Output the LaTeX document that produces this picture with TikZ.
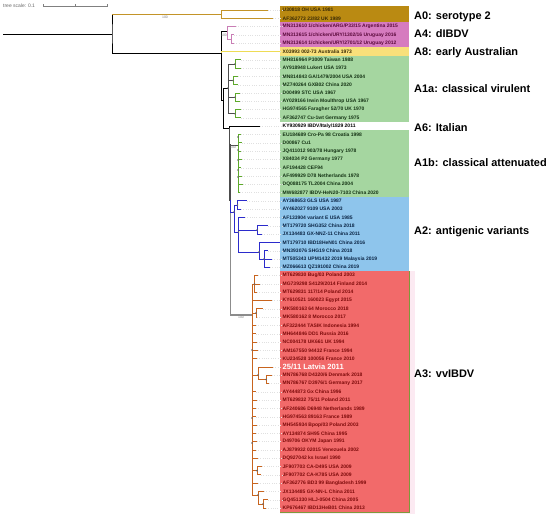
\documentclass[tikz,border=0pt]{standalone}
\usepackage{fontspec}
\setmainfont{Liberation Sans}
\definecolor{A0color}{HTML}{BA8A12}
\definecolor{A4color}{HTML}{D67BBF}
\definecolor{A8color}{HTML}{F9E07A}
\definecolor{A1color}{HTML}{A5D6A0}
\definecolor{A2color}{HTML}{8EC5EC}
\definecolor{A3color}{HTML}{F26A6A}
\definecolor{A3pale}{HTML}{FCEAF2}
\definecolor{A3edge}{HTML}{7E9A3A}
\definecolor{A0text}{HTML}{3B2B05}
\definecolor{A4text}{HTML}{5B0A3C}
\definecolor{A1text}{HTML}{143314}
\definecolor{A2text}{HTML}{0B2545}
\definecolor{A3text}{HTML}{7D0A0A}
\definecolor{A0branch}{HTML}{C39428}
\definecolor{A4branch}{HTML}{C97DB5}
\definecolor{A8branch}{HTML}{EEDC55}
\definecolor{A1branch}{HTML}{5DAA2A}
\definecolor{A2branch}{HTML}{2B2BCC}
\definecolor{A3branch}{HTML}{C8641E}
\usepackage{tikz}
\usetikzlibrary{calc}

\newcommand{\rowy}[1]{10+8.3*#1}

\begin{document}
\begin{tikzpicture}[x=1bp, y=-1bp]

    \tikzset{%
        tip/.style={anchor=west, inner sep=0.5bp, font=\bfseries\fontsize{5}{5}\selectfont},
        clade/.style={anchor=west, inner sep=0pt, font=\bfseries\fontsize{11}{11}\selectfont},
        boot/.style={inner sep=0pt, font=\fontsize{3.5}{3.5}\selectfont, text=gray},
        branch/.style={line width=0.8bp},
        trunk/.style={line width=1.6bp, black!70},
        trunkpale/.style={line width=1.8bp, black!45},
        leader/.style={black!12, dotted, line width=0.3bp},
        nodedot/.style={black!60},
    }

    \useasboundingbox (0, 0) rectangle (550, 518);

    % clade bands
    \fill[A3pale] (280, {\rowy{32}-4.15}) rectangle (415, 514);
    \foreach \first/\last/\col in {0/1/A0color, 2/4/A4color, 5/5/A8color, 6/13/A1color, 15/22/A1color, 23/31/A2color, 32/60/A3color} {%
            \fill[\col] (280, {\rowy{\first}-4.15}) rectangle (409, {\rowy{\last}+4.15});
        }
    \draw[A3edge, line width=0.6bp] (409, {\rowy{32}-4.15}) -- (409, {\rowy{60}+4.15}) -- (280, {\rowy{60}+4.15});

    % tip labels
    \foreach \lab [count=\i from 0] in {U30818 OH USA 1981, AF362773 23/82 UK 1989}
    \node[tip, text=A0text] (t\i) at (282, {\rowy{\i}}) {\lab};
    \foreach \lab [count=\i from 2] in {MN313610 1/chicken/ARG/P33/15 Argentina 2015, MN313615 1/chicken/URY/1302/16 Uruguay 2016, MN313614 1/chicken/URY/2701/12 Uruguay 2012}
    \node[tip, text=A4text] (t\i) at (282, {\rowy{\i}}) {\lab};
    \node[tip, text=A0text] (t5) at (282, {\rowy{5}}) {X03993 002-73 Australia 1973};
    \foreach \lab [count=\i from 6] in {MH816964 P3009 Taiwan 1988, AY918948 Lukert USA 1973, MN814843 GA/1479/2004 USA 2004, MZ740264 GXB02 China 2020, D00499 STC USA 1967, AY029166 Irwin Moulthrop USA 1967, HG974565 Faragher 52/70 UK 1970, AF362747 Cu-1wt Germany 1975}
    \node[tip, text=A1text] (t\i) at (282, {\rowy{\i}}) {\lab};
    \node[tip, text=black] (t14) at (282, {\rowy{14}}) {KY930929 IBDV/Italy/1829 2011};
    \foreach \lab [count=\i from 15] in {EU184689 Cro-Pa 98 Croatia 1998, D00867 Cu1, JQ411012 903/78 Hungary 1978, X84034 P2 Germany 1977, AF194428 CEF94, AF499929 D78 Netherlands 1978, DQ088175 TL2004 China 2004, MW682877 IBDV-HeN20-7103 China 2020}
    \node[tip, text=A1text] (t\i) at (282, {\rowy{\i}}) {\lab};
    \foreach \lab [count=\i from 23] in {AY368653 GLS USA 1987, AY462027 9109 USA 2003, AF133904 variant E USA 1985, MT179720 SHG352 China 2018, JX134483 GX-NNZ-11 China 2011, MT179710 IBD18HeN01 China 2016, MN393076 SHG19 China 2018, MT505343 UPM1432 2019 Malaysia 2019, MZ066613 QZ191002 China 2019}
    \node[tip, text=A2text] (t\i) at (282, {\rowy{\i}}) {\lab};
    \foreach \lab [count=\i from 32] in {MT629830 Bug/03 Poland 2003, MG739298 S4129/2014 Finland 2014, MT629831 117/14 Poland 2014, KY610521 160023 Egypt 2015, MK580163 64 Morocco 2018, MK580162 8 Morocco 2017, AF322444 TASIK Indonesia 1994, MH644846 DD1 Russia 2016, NC004178 UK661 UK 1994, AM167550 94432 France 1994, KU234528 100056 France 2010}
    \node[tip, text=A3text] (t\i) at (282, {\rowy{\i}}) {\lab};
    \node[tip, text=white, font=\bfseries\fontsize{7.6}{7.6}\selectfont] (t43) at (282, {\rowy{43}}) {25/11 Latvia 2011};
    \foreach \lab [count=\i from 44] in {MN786768 D4320/6 Denmark 2018, MN786767 D3976/1 Germany 2017, AY444873 Gx China 1996, MT629832 75/11 Poland 2011, AF240686 D6948 Netherlands 1989, HG974563 89163 France 1989, MH545934 Bpop/03 Poland 2003, AY134874 SH95 China 1995, D49706 OKYM Japan 1991, AJ879932 02015 Venezuela 2002, DQ927042 ks Israel 1990, JF907703 CA-D495 USA 2009, JF907702 CA-K785 USA 2009, AF362776 BD3 99 Bangladesh 1999, JX134485 GX-NN-L China 2011, GQ451330 HLJ-0504 China 2005, KP676467 IBD13HeB01 China 2013}
    \node[tip, text=A3text] (t\i) at (282, {\rowy{\i}}) {\lab};

    % clade names
    \node[clade] (lA0) at (414, 17) {A0: serotype 2};
    \node[clade] (lA4) at (414, 34) {A4: dIBDV};
    \node[clade] (lA8) at (414, 52.5) {A8: early Australian};
    \node[clade] (lA1a) at (414, 88.5) {A1a: classical virulent};
    \node[clade] (lA6) at (414, 128) {A6: Italian};
    \node[clade] (lA1b) at (414, 163) {A1b: classical attenuated};
    \node[clade] (lA2) at (414, 232) {A2: antigenic variants};
    \node[clade] (lA3) at (414, 374) {A3: vvIBDV};

    % tip ends
    \foreach \x [count=\i from 0] in {268, 273, 236, 234, 234, 280, 241, 241, 238, 238,
            240, 240, 241, 241, 260, 241, 242, 241, 242, 241,
            242, 243, 240, 247, 241, 245, 268, 262, 280, 268,
            272, 270, 258, 260, 257, 272, 263, 257, 256, 256,
            257, 258, 257, 273, 272, 269, 256, 257, 256, 256,
            257, 256, 257, 256, 258, 262, 261, 258, 264, 268,
            266}
    \coordinate (e\i) at (\x, {\rowy{\i}});
    \foreach \i in {0, ..., 60} {%
            \draw[leader] (e\i) -- (t\i.west);
        }

    % inner nodes
    \coordinate (root) at (3, 34);
    \coordinate (n0) at (112, 34);
    \coordinate (nA0) at (221, 14.2);
    \coordinate (nB) at (221, 53);
    \coordinate (nA4) at (227, 31);
    \coordinate (nA4b) at (231, 39.1);
    \coordinate (nC) at (223, 100);
    \coordinate (nA1a) at (228, 88);
    \coordinate (p1) at (235, 64);
    \coordinate (p2) at (233, 80.5);
    \coordinate (p3) at (235, 97.2);
    \coordinate (p4) at (235, 113.8);
    \coordinate (nD) at (229.5, 128);
    \coordinate (nE) at (230, 145);
    \coordinate (nA1b) at (238, 145);
    \coordinate (nF) at (230.5, 200);
    \coordinate (nA2) at (234, 212);
    \coordinate (a1) at (237.5, 205);
    \coordinate (a2) at (238.5, 232);
    \coordinate (a3) at (257, 230);
    \coordinate (a4) at (259, 252);
    \coordinate (a5) at (264, 259);
    \coordinate (nA3) at (252, 315);
    \coordinate (b1) at (254.5, 284);
    \coordinate (b2) at (256, 313);
    \coordinate (b3) at (258, 375);
    \coordinate (b4) at (266, 379.5);
    \coordinate (b5) at (257, 470.6);
    \coordinate (b6) at (258, 495);
    \coordinate (b7) at (263, 504);

    % backbone
    \draw[branch] (root) -- (n0);
    \draw[branch] (nA0 -| n0) -- (n0) |- (nB);
    \draw[branch, A0branch] (nA0 -| n0) -- (nA0);
    \foreach \i in {0, 1} \draw[branch, A0branch] (nA0) |- (e\i);
    \draw[branch] (nB) |- (nA4);
    \draw[branch, A4branch] (nA4) |- (e2);
    \draw[branch, A4branch] (nA4) |- (nA4b);
    \foreach \i in {3, 4} \draw[branch, A4branch] (nA4b) |- (e\i);
    \draw[branch, A8branch] (nB) |- (e5);
    \draw[branch] (nB) |- (nC);
    \draw[branch] (nC) |- (nA1a);
    \draw[branch] (nC) |- (nD);

    % A1a
    \foreach \p/\a/\b in {p1/6/7, p2/8/9, p3/10/11, p4/12/13} {%
            \draw[branch, black!70] (nA1a) |- (\p);
            \draw[branch, A1branch] (\p) |- (e\a);
            \draw[branch, A1branch] (\p) |- (e\b);
        }

    % A6 and trunk
    \draw[branch] (nD) |- (e14);
    \draw[trunk] (nD) |- (nE) |- (nF);
    \draw[branch, black!70] (nE) -- (nA1b);
    \foreach \i in {15, ..., 22} \draw[branch, A1branch] (nA1b) |- (e\i);
    \draw[trunkpale] (nF) |- (nA3);

    % A2
    \draw[branch, A2branch] (nF) |- (nA2);
    \draw[branch, A2branch] (nA2) |- (a1);
    \draw[branch, A2branch] (nA2) |- (a2);
    \foreach \i in {23, 24} \draw[branch, A2branch] (a1) |- (e\i);
    \draw[branch, A2branch] (a2) |- (e25);
    \draw[branch, A2branch] (a2) |- (a3);
    \draw[branch, A2branch] (a2) |- (a4);
    \foreach \i in {26, 27} \draw[branch, A2branch] (a3) |- (e\i);
    \draw[branch, A2branch] (a4) |- (e28);
    \draw[branch, A2branch] (a4) |- (a5);
    \foreach \i in {29, 30, 31} \draw[branch, A2branch] (a5) |- (e\i);

    % A3
    \foreach \n in {b1, e35, b2, e38, e39, e40, e41, e42, b3, e46, e47, e48, e49, e50, e51, e52, e53, e54, b5, e57, b6}
    \draw[branch, A3branch] (nA3) |- (\n);
    \foreach \i in {32, 33, 34} \draw[branch, A3branch] (b1) |- (e\i);
    \foreach \i in {36, 37} \draw[branch, A3branch] (b2) |- (e\i);
    \draw[branch, A3branch] (b3) |- (e43);
    \draw[branch, A3branch] (b3) |- (b4);
    \foreach \i in {44, 45} \draw[branch, A3branch] (b4) |- (e\i);
    \foreach \i in {55, 56} \draw[branch, A3branch] (b5) |- (e\i);
    \draw[branch, A3branch] (b6) |- (e58);
    \draw[branch, A3branch] (b6) |- (b7);
    \foreach \i in {59, 60} \draw[branch, A3branch] (b7) |- (e\i);

    \foreach \n in {nA1a, p1, p2, p3, p4, nA2, a1, a2, a3, a4, a5, b1, b2, b3, b4, b5, b6, b7} \fill[nodedot] (\n) circle (0.9);
    \foreach \y in {137, 150, 160, 170, 177} \fill[nodedot] (238, \y) circle (0.9);
    \foreach \y in {350, 418, 443} \fill[nodedot] (252, \y) circle (0.9);

    % support values
    \node[boot] (bs1) at (165, 17) {100};
    \node[boot] (bs2) at (224, 35.5) {100};
    \node[boot] (bs3) at (233, 147.5) {100};
    \node[boot] (bs4) at (241, 317.5) {100};

    % scale
    \node[anchor=west, inner sep=0pt, font=\fontsize{5}{5}\selectfont, text=black!60] (scale) at (3, 6) {tree scale: 0.1};
    \coordinate (sbL) at (43, 6);
    \coordinate (sbR) at (107, 6);
    \draw[black!50, line width=0.4bp] (sbL) -- (sbR);
    \foreach \x in {43, 75, 107} \draw[black!50, line width=0.4bp] (\x, 4.5) -- (\x, 7.5);

\end{tikzpicture}
\end{document}
